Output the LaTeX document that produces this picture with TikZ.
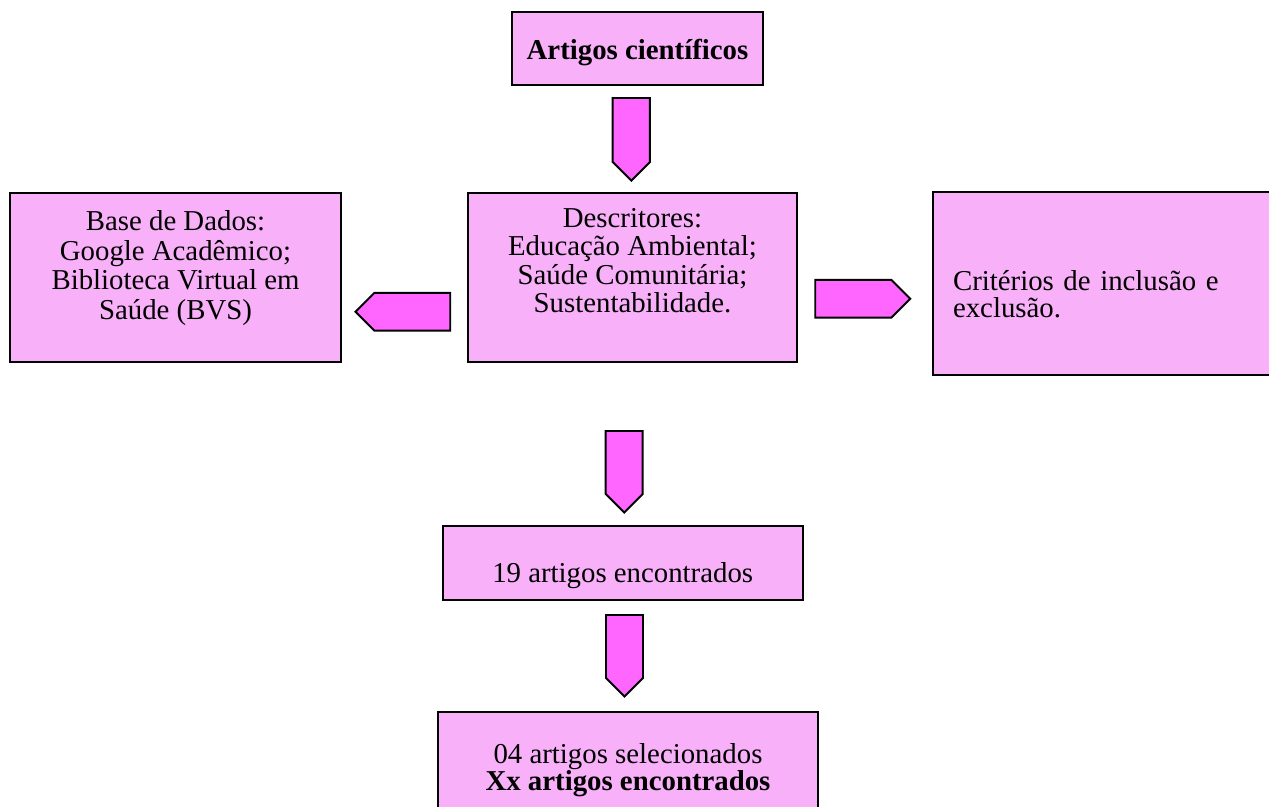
\documentclass[tikz,border=0pt]{standalone}
\usepackage{fontspec}
\setmainfont{Liberation Serif}
\usetikzlibrary{shapes.symbols}
\definecolor{rosaclaro}{HTML}{F8B0F8}
\definecolor{rosa}{HTML}{FF66FF}
\tikzset{
    caixa/.style={draw, line width=1.1pt, fill=rosaclaro, align=center,
        font=\fontsize{16.4}{16}\selectfont},
    seta/.style={draw, line width=1.1pt, fill=rosa, shape=signal,
        signal pointer angle=90, inner sep=0pt},
}
\begin{document}
\begin{tikzpicture}[x=0.02cm, y=-0.02cm]
    \useasboundingbox (0,0) rectangle (1269,807);
    % caixas
    \node[caixa, text height=16pt, minimum width=5.02cm, minimum height=1.46cm] (artigos) at (637.5,48.5) {\textbf{Artigos científicos}};
    \node[caixa, font=\fontsize{16.4}{16.2}\selectfont, text depth=19.6pt, minimum width=6.58cm, minimum height=3.38cm] (descr) at (632.5,277.5) {Descritores:\\ Educação Ambiental;\\ Saúde Comunitária;\\ Sustentabilidade.};
    \node[caixa, font=\fontsize{16.4}{16.8}\selectfont, text depth=14pt, minimum width=6.62cm, minimum height=3.38cm] (base) at (175.5,277.5) {Base de Dados:\\ Google Acadêmico;\\ Biblioteca Virtual em\\ Saúde (BVS)};
    \node[caixa, font=\fontsize{16.4}{15.4}\selectfont, align=left, text width=6.14cm, inner xsep=0.4cm, text depth=3.3pt, minimum height=3.67cm] (crit) at (1106.5,283.3) {Critérios de inclusão e\\ exclusão.};
    \node[caixa, text height=26.3pt, minimum width=7.2cm, minimum height=1.48cm] (encontr) at (622.7,563) {19 artigos encontrados};
    \node[caixa, font=\fontsize{16.4}{15.2}\selectfont, minimum width=7.6cm, minimum height=2.33cm] (selec) at (628,770) {04 artigos selecionados\\ \textbf{Xx artigos encontrados}};
    % setas
    \node[seta, signal to=south, minimum width=0.746cm, minimum height=1.28cm] (s1) at (631.3,130) {};
    \node[seta, signal to=west, minimum width=1.894cm, minimum height=0.754cm] (s2) at (412.3,311.8) {};
    \node[seta, signal to=east, minimum width=1.9cm, minimum height=0.754cm] (s3) at (853.3,298.8) {};
    \node[seta, signal to=south, minimum width=0.74cm, minimum height=1.26cm] (s4) at (624.2,462.5) {};
    \node[seta, signal to=south, minimum width=0.74cm, minimum height=1.26cm] (s5) at (624.5,646.5) {};
\end{tikzpicture}
\end{document}
